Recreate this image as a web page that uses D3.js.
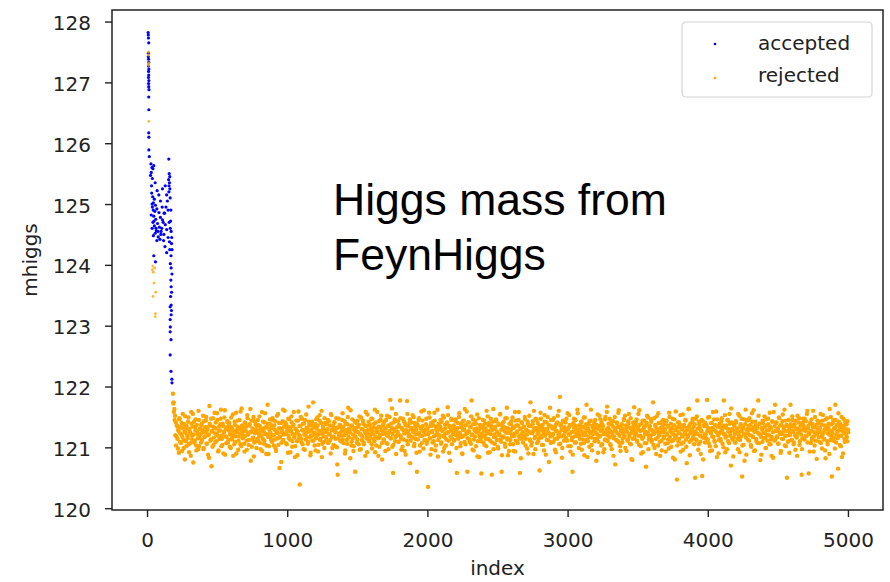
<!DOCTYPE html>
<html>
<head>
<meta charset="utf-8">
<script src="https://cdn.jsdelivr.net/npm/d3@7"></script>
<style>
  html, body { margin: 0; padding: 0; background: #fff; }
  svg { display: block; }
</style>
</head>
<body>
<svg id="chart"></svg>
<script>
// ---- data ----

// accepted samples at the start of the chain (index, mhiggs)
let acceptedIndex = [8, 9, 10, 12, 10, 9, 11, 12, 10, 13, 11, 12, 10, 13, 11, 12, 14, 12, 13, 12, 13, 13, 16,
    28, 35, 42, 30, 48, 25, 38, 155, 158, 162, 154, 160, 157, 163, 156,
    33, 40, 52, 45, 60, 38, 70, 55, 85, 30, 48, 95, 62, 110, 42, 75, 130, 52, 88, 36, 140, 66, 100, 58, 120, 45, 80, 150, 92, 70, 160,
    105, 115, 125, 135, 145, 165, 170, 168, 172, 175, 162, 140, 128, 118, 98, 78, 64, 50, 44, 36, 32, 58, 72, 84, 96, 108, 122, 110, 130, 140, 150, 158, 166, 176,
    48, 60, 178, 171, 166, 172, 178, 170, 172, 175, 168, 165, 172, 174, 172, 165, 166, 165, 171, 165, 171, 177, 178];
let acceptedMass = [127.82, 127.78, 127.73, 127.65, 127.48, 127.42, 127.38, 127.33, 127.27, 127.22, 127.18, 127.12, 127.08, 127.03, 126.98, 126.93, 126.88, 126.76, 126.55, 126.17, 126.10, 125.89, 125.78,
    125.66, 125.60, 125.58, 125.52, 125.63, 125.47, 125.42, 125.74, 125.50, 125.45, 125.40, 125.35, 125.30, 125.25, 125.20,
    125.18, 125.12, 125.08, 125.02, 124.98, 124.95, 124.92, 124.88, 124.86, 124.82, 124.80, 124.78, 124.75, 124.74, 124.70, 124.68, 124.66, 124.64, 124.62, 124.60, 124.58, 124.56, 124.55, 124.52, 124.50, 124.48, 124.46, 124.45, 124.42, 124.40, 124.38,
    124.60, 124.70, 124.85, 124.95, 125.05, 125.10, 124.90, 124.72, 124.55, 124.35, 124.25, 124.20, 124.30, 124.40, 124.50, 124.55, 124.60, 124.72, 124.90, 125.00, 125.30, 125.35, 125.22, 125.15, 125.05, 124.95, 124.85, 125.25, 125.30, 125.15, 124.90, 124.70, 124.60, 124.45,
    124.15, 124.05, 124.25, 124.15, 124.02, 123.95, 123.85, 123.75, 123.64, 123.55, 123.48, 123.31, 123.34, 123.25, 123.18, 123.10, 122.98, 122.90, 122.77, 122.52, 122.25, 122.12, 122.06];

// rejected samples during burn-in (index, mhiggs)
let rejectedEarlyIndex = [10, 11, 12, 11, 13, 40, 38, 45, 55, 50, 62, 42, 60, 58];
let rejectedEarlyMass = [127.50, 127.45, 127.32, 127.28, 126.36, 123.98, 123.92, 123.88, 123.95, 123.70, 123.55, 123.48, 123.20, 123.15];

// rejected samples after burn-in, every 5th sample (two interleaved runs)
let chainStep = 5;
let chainStartA = 185;
let rejectedMassA = [
    121.88, 121.74, 121.63, 121.52, 121.41, 121.18, 121.35, 120.98, 121.27, 121.46, 121.09, 121.33, 121.21, 120.94, 121.55, 121.12, 121.38, 120.80, 121.24, 121.02,
    121.31, 121.15, 121.49, 120.92, 121.26, 121.07, 121.58, 121.19, 121.34, 120.75, 121.42, 121.11, 121.28, 121.03, 121.37, 121.22, 120.97, 121.45, 121.16, 121.30,
    121.08, 121.39, 121.25, 121.52, 120.99, 121.17, 121.33, 121.44, 121.06, 121.29, 120.88, 121.21, 121.68, 121.36, 121.13, 120.69, 121.27, 121.48, 121.04, 121.32,
    121.23, 121.41, 121.10, 121.56, 121.19, 120.95, 121.35, 121.28, 121.47, 121.02, 121.14, 121.39, 120.90, 121.26, 121.61, 121.18, 121.07, 121.33, 121.43, 121.12,
    121.37, 121.01, 121.24, 121.49, 121.15, 121.30, 120.86, 121.20, 121.42, 121.09, 121.57, 121.25, 121.34, 120.96, 121.18, 121.45, 121.05, 121.29, 121.64, 121.22,
    121.16, 121.32, 120.93, 121.40, 121.27, 121.11, 121.53, 121.21, 121.04, 121.36, 121.25, 120.78, 121.44, 121.13, 121.30, 121.50, 121.08, 121.23, 121.38, 120.99,
    121.28, 121.45, 121.10, 121.19, 121.35, 120.97, 121.26, 121.58, 121.14, 121.31, 121.06, 121.41, 121.22, 120.89, 121.33, 121.70, 121.17, 121.02, 121.39, 121.24,
    121.12, 121.36, 121.48, 121.20, 121.03, 121.29, 121.43, 120.94, 121.25, 121.15, 121.55, 121.31, 120.66, 121.18, 121.40, 121.08, 121.27, 121.62, 121.21, 121.34,
    121.41, 121.07, 121.25, 121.33, 120.91, 121.19, 121.46, 121.13, 121.29, 121.51, 121.01, 121.22, 121.37, 121.16, 120.84, 121.30, 121.44, 121.10, 121.26, 121.59,
    121.20, 120.39, 121.35, 121.14, 121.47, 121.05, 121.28, 121.39, 120.96, 121.23, 121.54, 121.17, 121.32, 121.09, 121.42, 121.26, 120.87, 121.19, 121.36, 121.11,
    121.74, 121.24, 121.03, 121.38, 121.15, 121.31, 121.49, 120.93, 121.21, 121.44, 121.12, 121.27, 121.60, 121.06, 121.34, 121.18, 120.99, 121.40, 121.25, 121.13,
    121.29, 121.45, 121.08, 121.22, 121.36, 120.90, 121.53, 121.17, 121.30, 121.04, 121.41, 121.26, 121.14, 121.48, 121.00, 120.55, 121.33, 121.20, 121.37, 121.11,
    121.19, 121.32, 121.56, 121.07, 121.27, 121.43, 120.95, 121.23, 121.12, 121.38, 121.65, 121.16, 121.29, 120.82, 121.35, 121.09, 121.46, 121.21, 121.02, 121.31,
    120.60, 121.26, 121.40, 121.13, 121.34, 121.05, 121.51, 121.22, 120.97, 121.30, 121.18, 121.44, 121.08, 121.37, 121.24, 121.58, 121.15, 120.92, 121.28, 121.42,
    121.10, 121.35, 121.21, 121.47, 120.98, 121.27, 121.14, 121.39, 121.62, 121.18, 121.03, 121.31, 121.25, 120.86, 121.43, 121.16, 121.33, 121.52, 121.07, 121.22,
    121.38, 121.12, 121.29, 120.94, 121.45, 121.20, 121.06, 121.36, 121.24, 121.50, 121.78, 121.15, 121.32, 121.01, 120.58, 121.41, 121.27, 121.10, 121.55, 121.19,
    121.26, 121.43, 121.09, 121.34, 121.77, 121.18, 120.96, 121.30, 121.47, 121.13, 121.23, 121.39, 120.88, 121.28, 121.76, 121.05, 121.35, 121.21, 121.46, 121.11,
    121.32, 121.17, 121.53, 121.25, 121.02, 121.40, 121.14, 121.29, 120.60, 121.36, 121.22, 121.48, 120.93, 121.19, 121.33, 121.07, 121.44, 121.27, 121.61, 121.12,
    121.21, 121.38, 121.06, 121.30, 120.35, 121.24, 121.49, 121.15, 121.35, 120.97, 121.27, 121.42, 121.10, 121.57, 121.20, 121.03, 121.34, 121.26, 120.85, 121.39,
    121.16, 121.31, 121.45, 121.08, 121.28, 121.52, 121.19, 120.99, 121.37, 121.23, 121.13, 121.41, 121.66, 121.25, 120.91, 121.33, 121.18, 121.47, 121.05, 121.29,
    121.35, 121.11, 121.27, 121.43, 121.20, 120.58, 121.32, 121.14, 121.50, 121.24, 121.02, 121.38, 121.17, 120.89, 121.29, 121.44, 121.09, 121.36, 121.22, 121.59,
    120.60, 121.26, 121.41, 121.13, 121.33, 121.06, 121.77, 121.21, 121.46, 120.95, 121.30, 121.18, 121.39, 121.25, 121.54, 121.10, 121.28, 120.84, 121.37, 121.15,
    120.57, 121.23, 121.36, 121.08, 121.44, 121.19, 121.31, 121.02, 121.27, 121.51, 121.14, 121.40, 120.92, 121.22, 121.35, 120.55, 121.29, 121.63, 121.17, 121.06,
    121.30, 121.46, 121.12, 121.25, 120.98, 121.38, 121.20, 121.55, 121.09, 120.60, 121.34, 121.16, 121.42, 121.27, 121.01, 121.32, 121.48, 121.13, 120.87, 121.24,
    121.39, 121.05, 121.28, 121.43, 121.18, 121.33, 120.94, 121.22, 121.58, 121.11, 121.36, 121.26, 121.07, 121.45, 121.19, 120.58, 121.31, 121.14, 121.40, 121.25,
    121.17, 121.34, 121.50, 121.03, 121.29, 121.21, 121.42, 120.90, 121.35, 121.13, 121.74, 121.24, 121.08, 121.38, 121.27, 121.60, 121.15, 120.97, 121.32, 121.46,
    121.22, 121.10, 121.37, 120.62, 121.28, 121.47, 121.16, 121.33, 121.04, 121.25, 121.53, 121.19, 120.88, 121.41, 121.30, 121.12, 121.36, 121.23, 121.65, 121.07,
    121.34, 121.20, 121.45, 121.09, 121.31, 120.96, 121.27, 121.39, 121.14, 121.52, 121.22, 121.05, 121.83, 121.36, 121.18, 120.83, 121.29, 121.43, 121.11, 121.26,
    121.41, 121.15, 121.28, 121.56, 121.02, 121.33, 121.21, 120.93, 121.37, 121.12, 120.60, 121.26, 121.47, 121.18, 121.35, 121.08, 121.30, 121.62, 121.23, 120.99,
    121.19, 121.36, 121.06, 121.42, 121.25, 121.13, 121.49, 120.87, 121.32, 121.20, 121.70, 121.28, 121.10, 121.38, 121.01, 121.24, 121.44, 121.16, 120.95, 121.33,
    121.27, 121.40, 121.14, 121.31, 120.78, 121.22, 121.54, 121.09, 121.35, 121.18, 121.46, 121.03, 121.29, 121.37, 120.92, 121.24, 121.12, 121.50, 121.21, 121.58,
    121.10, 121.32, 121.25, 121.47, 121.05, 121.38, 120.97, 121.20, 121.43, 121.15, 121.30, 120.72, 121.26, 121.41, 121.11, 121.34, 121.61, 121.19, 121.02, 121.28,
    121.36, 121.08, 121.23, 121.45, 121.17, 121.52, 121.29, 120.94, 121.33, 121.13, 121.39, 121.22, 121.06, 121.48, 120.81, 121.27, 121.14, 121.35, 121.66, 121.20,
    121.24, 121.42, 121.11, 121.30, 121.55, 121.04, 121.37, 121.19, 120.90, 121.28, 121.44, 121.16, 121.33, 121.07, 121.25, 120.68, 121.40, 121.21, 121.49, 121.13,
    121.31, 121.18, 121.46, 121.09, 121.27, 121.74, 121.22, 120.99, 121.35, 121.14, 121.51, 121.26, 121.03, 121.40, 121.20, 120.86, 121.32, 121.11, 121.43, 121.25,
    121.15, 121.38, 121.29, 120.93, 121.44, 121.21, 121.07, 121.34, 121.57, 121.17, 121.30, 121.01, 121.24, 121.47, 121.12, 121.36, 120.80, 121.28, 121.19, 120.47,
    121.33, 121.10, 121.41, 121.23, 121.53, 121.06, 121.30, 121.18, 120.96, 121.37, 121.26, 121.45, 121.13, 120.74, 121.32, 121.20, 121.63, 121.09, 121.39, 121.24,
    121.28, 121.42, 121.15, 121.34, 121.22, 120.50, 121.47, 121.11, 121.77, 121.31, 121.05, 121.38, 121.19, 120.89, 121.26, 120.53, 121.43, 121.16, 121.35, 121.08,
    121.21, 121.37, 121.78, 121.13, 121.29, 121.50, 121.02, 121.25, 121.40, 120.95, 121.32, 121.17, 121.46, 121.09, 121.27, 121.59, 120.84, 121.34, 121.20, 121.12,
    121.39, 121.14, 121.26, 121.48, 121.06, 121.33, 121.77, 121.22, 120.92, 121.36, 121.18, 121.44, 121.10, 121.30, 121.55, 121.24, 120.70, 121.41, 121.15, 121.28,
    121.16, 121.35, 121.08, 121.43, 121.25, 121.31, 120.97, 121.19, 121.52, 121.12, 121.38, 121.27, 120.52, 121.34, 121.04, 121.46, 121.21, 121.62, 120.88, 121.30,
    121.23, 121.45, 121.11, 121.29, 121.37, 121.01, 121.56, 121.18, 121.33, 120.94, 121.26, 121.42, 121.14, 121.31, 121.07, 121.77, 121.22, 121.39, 120.79, 121.17,
    121.32, 121.09, 121.40, 121.24, 121.51, 121.15, 120.99, 121.36, 121.20, 121.47, 121.28, 121.05, 121.34, 121.13, 120.86, 121.43, 121.25, 121.58, 121.11, 121.70,
    121.27, 121.41, 121.16, 121.30, 121.06, 121.48, 121.22, 120.91, 121.37, 121.14, 121.54, 121.26, 121.33, 121.03, 121.44, 121.19, 120.50, 121.35, 121.10, 121.29,
    121.20, 121.70, 121.34, 121.12, 121.45, 121.25, 121.08, 121.38, 120.96, 121.30, 121.17, 121.52, 121.23, 121.41, 121.04, 121.28, 121.36, 120.55, 121.15, 121.47,
    121.35, 121.13, 121.27, 121.43, 121.19, 121.60, 121.31, 120.57, 121.22, 121.39, 121.07, 121.46, 121.16, 121.33, 120.93, 121.25, 121.50, 121.11, 121.37, 121.21,
    121.26, 121.40, 121.09, 121.32, 121.55, 121.18, 120.98, 121.44, 121.24, 121.14, 121.36, 120.82, 121.29, 121.48, 121.05, 121.34, 121.21, 121.63, 121.12, 121.38,
    120.52, 121.23, 121.45, 121.16, 121.31, 121.70, 121.08, 121.37, 121.26, 120.65, 121.42, 121.19, 121.33, 121.02, 121.50, 121.27, 120.90, 121.35, 121.14, 121.44,
    121.22, 121.38, 121.10, 121.29
];
let chainStartB = 187;
let rejectedMassB = [
    121.72, 121.58, 121.45, 121.20, 121.03, 121.36, 121.14, 121.29, 120.91, 121.48, 121.23, 121.07, 121.40, 121.17, 121.32, 120.99, 121.26, 121.51, 121.10, 121.35,
    121.19, 121.42, 121.05, 121.30, 121.24, 120.86, 121.39, 121.13, 121.55, 121.21, 121.08, 121.34, 121.46, 120.95, 121.27, 121.15, 121.60, 121.02, 121.31, 121.22,
    121.36, 121.12, 121.28, 120.97, 121.43, 121.18, 121.25, 121.50, 121.06, 121.33, 121.20, 120.83, 121.39, 121.11, 121.47, 121.26, 121.01, 121.34, 121.16, 121.57,
    121.09, 121.31, 121.22, 121.45, 120.93, 121.27, 121.14, 121.38, 121.62, 121.19, 121.04, 121.35, 121.24, 121.49, 120.88, 121.30, 121.17, 121.42, 121.08, 121.28,
    121.40, 121.21, 120.99, 121.33, 121.13, 121.54, 121.26, 121.05, 121.37, 121.18, 120.90, 121.29, 121.44, 121.11, 121.32, 121.23, 121.59, 121.02, 121.36, 121.15,
    121.27, 121.06, 121.41, 121.19, 121.34, 120.96, 121.48, 121.22, 121.12, 121.38, 121.63, 121.25, 121.01, 121.31, 121.16, 120.85, 121.43, 121.28, 121.10, 121.35,
    121.14, 121.37, 121.24, 121.51, 121.07, 121.30, 121.19, 120.94, 121.42, 121.26, 121.11, 121.56, 121.33, 121.03, 121.21, 121.39, 120.89, 121.29, 121.46, 121.17,
    121.32, 121.09, 121.45, 121.20, 121.36, 121.13, 120.98, 121.27, 121.52, 121.23, 121.04, 121.40, 121.16, 121.31, 120.76, 121.25, 121.43, 121.12, 121.34, 121.60,
    121.22, 121.38, 121.05, 121.29, 121.47, 121.15, 121.33, 120.92, 121.26, 121.41, 121.10, 121.35, 121.58, 121.19, 121.02, 121.30, 121.24, 120.87, 121.44, 121.14,
    121.35, 121.18, 121.50, 121.08, 121.28, 121.39, 120.97, 121.21, 121.45, 121.13, 121.32, 121.25, 121.06, 121.67, 121.37, 121.16, 120.91, 121.29, 121.42, 121.20,
    121.11, 121.33, 121.24, 120.95, 121.46, 121.19, 121.36, 121.04, 121.27, 121.53, 121.14, 121.40, 120.84, 121.22, 121.31, 121.09, 121.48, 121.26, 121.17, 121.38,
    121.30, 121.07, 121.43, 121.21, 121.12, 121.55, 121.28, 120.99, 121.35, 121.18, 121.41, 121.02, 121.25, 121.32, 120.72, 121.15, 121.47, 121.23, 121.37, 121.10,
    121.26, 121.45, 121.13, 121.34, 121.20, 120.90, 121.39, 121.28, 121.06, 121.50, 121.17, 121.31, 121.24, 121.61, 121.03, 121.36, 121.14, 120.94, 121.29, 121.42,
    121.18, 121.32, 121.08, 121.44, 121.25, 121.37, 120.96, 121.21, 121.49, 121.12, 121.30, 121.40, 121.05, 121.27, 120.86, 121.35, 121.19, 121.54, 121.23, 121.11,
    121.38, 121.16, 121.29, 121.05, 121.47, 121.22, 121.33, 121.10, 120.92, 121.41, 121.26, 121.58, 121.15, 121.34, 121.01, 121.20, 121.45, 121.28, 120.80, 121.36,
    121.13, 121.42, 121.24, 121.31, 121.07, 121.52, 121.19, 120.97, 121.35, 121.27, 121.15, 121.39, 121.64, 121.22, 121.04, 121.30, 121.46, 121.17, 120.89, 121.33,
    121.25, 121.09, 121.37, 121.20, 121.48, 121.14, 121.32, 121.01, 121.28, 121.43, 120.94, 121.23, 121.36, 121.11, 121.55, 121.26, 121.18, 121.40, 120.74, 121.30,
    121.41, 121.16, 121.27, 121.50, 121.06, 121.34, 121.21, 120.91, 121.38, 121.13, 121.45, 121.24, 121.03, 121.31, 121.59, 121.19, 121.35, 120.98, 121.26, 121.12,
    121.29, 121.47, 121.10, 121.33, 121.22, 121.57, 121.15, 120.88, 121.40, 121.25, 121.08, 121.36, 121.18, 121.44, 120.95, 121.30, 121.21, 121.62, 121.12, 121.37,
    121.20, 121.34, 121.06, 121.42, 121.27, 120.93, 121.49, 121.17, 121.31, 121.03, 121.38, 121.24, 121.53, 121.11, 121.35, 120.78, 121.28, 121.45, 121.14, 121.22,
    121.36, 121.12, 121.30, 121.46, 120.99, 121.25, 121.40, 121.16, 121.56, 121.21, 121.07, 121.33, 120.90, 121.43, 121.19, 121.29, 121.63, 121.05, 121.37, 121.23,
    121.15, 121.41, 121.26, 121.09, 121.34, 121.51, 121.20, 120.96, 121.38, 121.13, 121.28, 121.44, 121.02, 121.31, 120.85, 121.24, 121.48, 121.18, 121.35, 121.10,
    121.32, 121.19, 121.45, 121.27, 121.04, 121.39, 121.14, 121.60, 121.23, 120.91, 121.36, 121.26, 121.11, 121.47, 121.30, 121.08, 121.42, 120.97, 121.21, 121.34,
    121.17, 121.43, 121.25, 121.01, 121.37, 121.22, 121.54, 121.13, 121.29, 120.87, 121.40, 121.18, 121.33, 121.06, 121.48, 121.24, 121.65, 121.15, 121.31, 120.94,
    121.27, 121.12, 121.38, 121.21, 121.49, 121.05, 121.32, 121.19, 120.93, 121.44, 121.25, 121.10, 121.36, 121.58, 121.16, 121.30, 120.82, 121.41, 121.23, 121.08,
    121.34, 121.20, 121.46, 121.14, 121.28, 120.98, 121.39, 121.26, 121.52, 121.11, 121.35, 121.03, 121.23, 121.43, 120.89, 121.31, 121.17, 121.47, 121.29, 121.07,
    121.40, 121.24, 121.15, 121.33, 121.57, 121.19, 121.04, 121.37, 121.27, 120.95, 121.42, 121.21, 121.30, 121.12, 121.50, 121.25, 120.76, 121.36, 121.18, 121.45,
    121.09, 121.31, 121.22, 121.48, 121.14, 121.35, 120.92, 121.27, 121.41, 121.17, 121.60, 121.24, 121.06, 121.38, 121.30, 120.99, 121.44, 121.20, 121.33, 121.13,
    121.26, 121.47, 121.11, 121.30, 121.21, 121.53, 121.37, 121.02, 121.25, 121.16, 120.88, 121.40, 121.32, 121.08, 121.45, 121.23, 121.19, 121.56, 121.28, 121.36,
    121.14, 121.29, 121.42, 120.96, 121.34, 121.20, 121.07, 121.49, 121.25, 121.38, 121.12, 120.84, 121.31, 121.17, 121.43, 121.26, 121.62, 121.04, 121.35, 121.22,
    121.33, 121.10, 121.45, 121.24, 121.37, 121.15, 120.91, 121.30, 121.52, 121.19, 121.27, 121.41, 121.05, 121.34, 121.22, 120.97, 121.46, 121.13, 121.29, 121.67,
    121.21, 121.39, 121.16, 121.28, 121.03, 121.44, 121.25, 121.35, 120.86, 121.18, 121.50, 121.31, 121.12, 121.40, 121.23, 121.57, 121.08, 121.33, 120.94, 121.27,
    121.38, 121.14, 121.30, 121.47, 121.20, 120.99, 121.36, 121.26, 121.11, 121.43, 121.55, 121.18, 121.32, 121.05, 121.24, 120.79, 121.41, 121.29, 121.15, 121.37,
    121.23, 121.46, 121.09, 121.33, 121.19, 121.61, 121.27, 121.02, 121.39, 121.14, 120.92, 121.30, 121.44, 121.22, 121.36, 121.07, 121.52, 121.25, 120.97, 121.17,
    121.35, 121.20, 121.42, 121.12, 121.28, 121.04, 121.48, 121.24, 121.37, 120.89, 121.31, 121.16, 121.56, 121.21, 121.09, 121.40, 121.26, 120.95, 121.34, 121.45,
    121.18, 121.30, 121.06, 121.43, 121.23, 121.36, 121.13, 120.98, 121.50, 121.27, 121.39, 121.10, 121.32, 120.83, 121.21, 121.46, 121.15, 121.59, 121.29, 121.03,
    121.41, 121.25, 121.14, 121.37, 120.93, 121.31, 121.20, 121.54, 121.08, 121.34, 121.22, 121.44, 121.01, 121.28, 121.17, 121.63, 121.35, 120.87, 121.24, 121.12,
    121.30, 121.47, 121.19, 121.05, 121.38, 121.26, 121.13, 121.51, 121.22, 120.96, 121.42, 121.33, 121.09, 121.28, 121.45, 121.16, 120.80, 121.36, 121.21, 121.40,
    121.15, 121.34, 121.27, 121.49, 121.07, 121.31, 120.94, 121.23, 121.40, 121.18, 121.58, 121.29, 121.11, 121.37, 121.02, 121.25, 121.46, 121.20, 120.90, 121.33,
    121.24, 121.11, 121.43, 121.28, 121.36, 121.00, 121.21, 121.53, 121.16, 121.32, 120.97, 121.45, 121.26, 121.07, 121.39, 121.19, 121.64, 121.30, 121.13, 120.85,
    121.37, 121.22, 121.08, 121.41, 121.29, 121.14, 121.55, 121.25, 120.92, 121.34, 121.18, 121.47, 121.03, 121.31, 121.23, 120.78, 121.38, 121.16, 121.44, 121.27,
    121.12, 121.35, 121.48, 121.20, 121.04, 121.30, 121.42, 121.17, 121.61, 121.26, 120.95, 121.36, 121.10, 121.33, 121.24, 121.52, 121.07, 121.39, 121.21, 120.88,
    121.29, 121.44, 121.15, 121.33, 121.23, 120.99, 121.46, 121.28, 121.11, 121.38, 121.20, 121.57, 121.05, 121.32, 121.17, 121.42, 120.83, 121.26, 121.35, 121.13,
    121.40, 121.18, 121.31, 121.06, 121.49, 121.25, 121.36, 120.94, 121.22, 121.43, 121.14, 121.30, 121.62, 121.19, 121.02, 121.37, 121.27, 121.09, 121.45, 120.91,
    121.23, 121.38, 121.12, 121.51, 121.27, 121.05, 121.34, 121.20, 121.44, 121.16, 120.86, 121.31, 121.25, 121.48, 121.10, 121.36, 121.21, 120.97, 121.40, 121.29,
    121.14, 121.47, 121.30, 121.19, 121.55, 121.08, 121.35, 121.24, 120.93, 121.41, 121.27, 121.12, 121.38, 121.60, 121.18, 121.03, 121.33, 121.22, 120.81, 121.44,
    121.31, 121.16, 121.42, 121.25, 121.07, 121.37, 121.20, 121.53, 121.13, 121.29, 120.95, 121.46, 121.34, 121.10, 121.23, 121.39, 120.89, 121.28, 121.50, 121.18,
    121.26, 121.40, 121.11, 121.32, 120.98, 121.45, 121.21, 121.36, 121.15, 121.56, 121.28, 121.04, 121.38, 121.19, 120.84, 121.33, 121.47, 121.24, 121.09, 121.41,
    121.30, 121.17, 121.43, 121.25
];

let xTicks = [0, 1000, 2000, 3000, 4000, 5000];
let yTicks = [120, 121, 122, 123, 124, 125, 126, 127, 128];
let seriesNames = ['accepted', 'rejected'];
let seriesColors = ['#0000ff', '#ffa500'];
let noteLines = ['Higgs mass from', 'FeynHiggs'];

// ---- layout ----
let margin = { top: 10, right: 7, bottom: 72, left: 112 };
let width = 890 - margin.left - margin.right;
let height = 582 - margin.top - margin.bottom;
let tickFont = '"DejaVu Sans", sans-serif';

let svg = d3.select('#chart')
    .attr('width', 890)
    .attr('height', 582);

let g = svg.append('g')
    .attr('transform', 'translate(' + margin.left + ',' + margin.top + ')');

let xScale = d3.scaleLinear().domain([-250, 5250]).range([0, width]);
let yScale = d3.scaleLinear().domain([119.97, 128.19]).range([height, 0]);

// points: accepted first, rejected on top
let accepted = acceptedIndex.map((d, i) => ({ index: d, mass: acceptedMass[i] }));
let rejectedEarly = rejectedEarlyIndex.map((d, i) => ({ index: d, mass: rejectedEarlyMass[i] }));
let rejectedChain = rejectedMassA.map((m, i) => ({ index: chainStartA + i * chainStep, mass: m }))
    .concat(rejectedMassB.map((m, i) => ({ index: chainStartB + i * chainStep, mass: m })));

g.append('g').selectAll('circle')
    .data(accepted)
    .enter()
    .append('circle')
    .attr('cx', d => xScale(d.index))
    .attr('cy', d => yScale(d.mass))
    .attr('r', 1.6)
    .attr('fill', seriesColors[0]);

g.append('g').selectAll('circle')
    .data(rejectedEarly)
    .enter()
    .append('circle')
    .attr('cx', d => xScale(d.index))
    .attr('cy', d => yScale(d.mass))
    .attr('r', 1.4)
    .attr('fill', seriesColors[1])
    .attr('opacity', 0.8);

g.append('g').selectAll('circle')
    .data(rejectedChain)
    .enter()
    .append('circle')
    .attr('cx', d => xScale(d.index))
    .attr('cy', d => yScale(d.mass))
    .attr('r', 2.2)
    .attr('fill', seriesColors[1]);

// axes
let xAxis = d3.axisBottom(xScale).tickValues(xTicks).tickSize(7).tickSizeOuter(0).tickFormat(d3.format('d'));
let yAxis = d3.axisLeft(yScale).tickValues(yTicks).tickSize(7).tickSizeOuter(0).tickPadding(14).tickFormat(d3.format('d'));

let gx = g.append('g')
    .attr('transform', 'translate(0,' + height + ')')
    .call(xAxis);
gx.selectAll('text').attr('y', 37).attr('dy', null);

let gy = g.append('g').call(yAxis);
gy.selectAll('text').attr('dy', '0.4em');

[gx, gy].forEach(ax => {
    ax.select('.domain').remove();
    ax.selectAll('line').attr('stroke', '#222').attr('stroke-width', 1.4);
    ax.selectAll('text')
        .style('font-family', tickFont)
        .style('font-size', '20px')
        .attr('fill', '#222');
});

// frame
g.append('rect')
    .attr('width', width)
    .attr('height', height)
    .attr('fill', 'none')
    .attr('stroke', '#222')
    .attr('stroke-width', 1.5);

// axis labels
svg.append('text')
    .attr('x', margin.left + width / 2)
    .attr('y', 575)
    .attr('text-anchor', 'middle')
    .style('font-family', tickFont)
    .style('font-size', '20px')
    .attr('fill', '#222')
    .text('index');

svg.append('text')
    .attr('transform', 'translate(37,' + (margin.top + height / 2) + ') rotate(-90)')
    .attr('text-anchor', 'middle')
    .style('font-family', tickFont)
    .style('font-size', '20px')
    .attr('fill', '#222')
    .text('mhiggs');

// legend
let legend = svg.append('g').attr('transform', 'translate(682,22)');
legend.append('rect')
    .attr('width', 190)
    .attr('height', 75)
    .attr('rx', 4)
    .attr('fill', '#fff')
    .attr('stroke', '#d4d4d4')
    .attr('stroke-width', 1.2);

seriesNames.forEach((name, i) => {
    legend.append('circle')
        .attr('cx', 33)
        .attr('cy', 22 + i * 34)
        .attr('r', 1.3)
        .attr('fill', seriesColors[i]);
    legend.append('text')
        .attr('x', 76)
        .attr('y', 28 + i * 32)
        .style('font-family', tickFont)
        .style('font-size', '20px')
        .attr('fill', '#222')
        .text(name);
});

// annotation
svg.append('text')
    .selectAll('tspan')
    .data(noteLines)
    .enter()
    .append('tspan')
    .attr('x', 333)
    .attr('y', (d, i) => 215 + i * 55)
    .style('font-family', '"Liberation Sans", Arial, sans-serif')
    .style('font-size', '44.5px')
    .attr('fill', '#000')
    .text(d => d);
</script>
</body>
</html>
